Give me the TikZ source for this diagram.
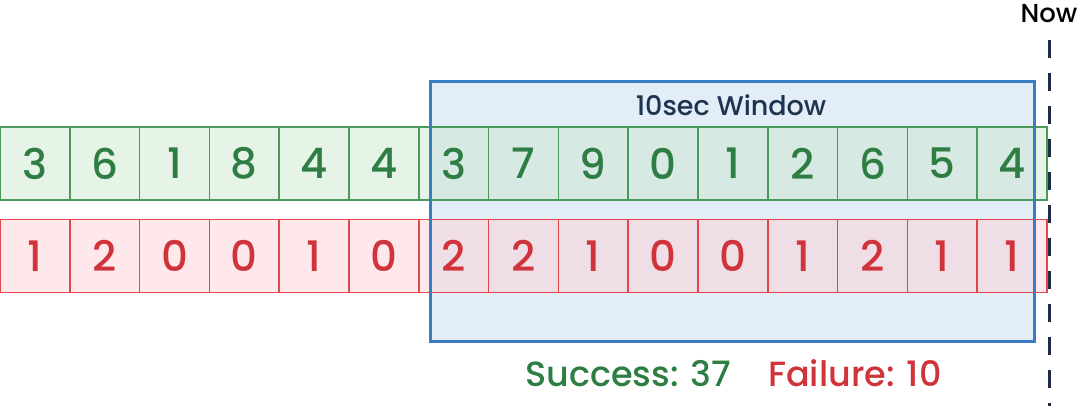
\documentclass[tikz,border=0pt]{standalone}
\usepackage{fontspec}
\setmainfont{Poppins}[UprightFont=* Medium]
\definecolor{gtext}{HTML}{2E7D43}
\definecolor{gline}{HTML}{4A9A5A}
\definecolor{gfill}{HTML}{C8E6C9}
\definecolor{rtext}{HTML}{D0343A}
\definecolor{rline}{HTML}{E0474D}
\definecolor{rfill}{HTML}{FFCDD2}
\definecolor{wline}{HTML}{3B7DC4}
\definecolor{wfill}{HTML}{E3EDF7}
\definecolor{wtext}{HTML}{1E3350}
\definecolor{nowline}{HTML}{1D2B45}
\tikzset{
  cell/.style={draw, line width=1.7pt, minimum width=69.8pt, minimum height=73pt, inner sep=0pt,
    fill opacity=0.45, text opacity=1, draw opacity=1, font=\fontsize{42}{42}\selectfont},
  gcell/.style={cell, draw=gline, fill=gfill, text=gtext},
  rcell/.style={cell, draw=rline, fill=rfill, text=rtext},
  winbox/.style={fill=wfill, minimum width=603pt, minimum height=259pt, inner sep=0pt},
  winborder/.style={draw=wline, line width=3pt},
  nowdash/.style={draw=nowline, line width=3pt, dash pattern=on 18pt off 15pt},
}
\begin{document}
\begin{tikzpicture}[x=1pt,y=-1pt]
\useasboundingbox (0,0) rectangle (1080,406);
% window background
\node[winbox] (win) at (732.5,211.5) {};
\node[anchor=base, text=wtext, font=\fontsize{27}{27}\selectfont] (title) at (731,116) {10sec Window};
% success row
\foreach \v [count=\i] in {3,6,1,8,4,4,3,7,9,0,1,2,6,5,4} {
  \node[gcell] (g\i) at ({(\i-0.5)*69.8},163.5) {\v};
}
% failure row
\foreach \v [count=\i] in {1,2,0,0,1,0,2,2,1,0,0,1,2,1,1} {
  \node[rcell] (r\i) at ({(\i-0.5)*69.8},256) {\v};
}
% window border
\draw[winborder] (win.north west) rectangle (win.south east);
% now line
\node[anchor=base, text=black, font=\fontsize{26}{26}\selectfont] (now) at (1049,23) {Now};
\coordinate (nowtop) at (1049,40);
\coordinate (nowbot) at (1049,406);
\draw[nowdash] (nowtop) -- (nowbot);
% totals
\node[anchor=base west, inner sep=0pt, text=gtext, font=\fontsize{35}{35}\selectfont] (succ) at (525,386) {Success: 37};
\node[anchor=base west, inner sep=0pt, text=rtext, font=\fontsize{35}{35}\selectfont] (fail) at (768,386) {Failure: 10};
\end{tikzpicture}
\end{document}
